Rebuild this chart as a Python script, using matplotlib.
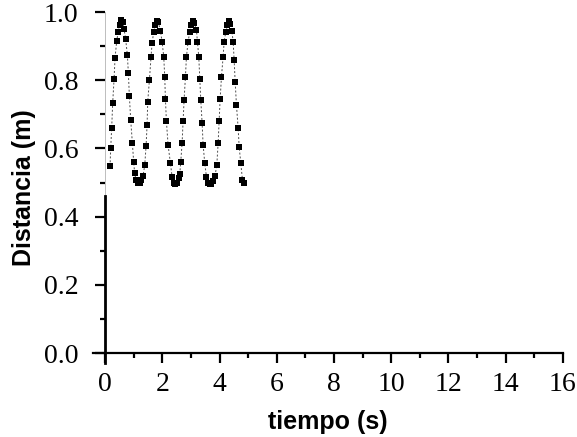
import matplotlib
matplotlib.use("Agg")
import matplotlib.pyplot as plt
from matplotlib.ticker import MultipleLocator

# Datos: tiempo (s) y distancia (m)
tiempo = [
    0.175, 0.198, 0.233, 0.268, 0.315, 0.350, 0.408, 0.460, 0.515, 0.565,
    0.615, 0.665, 0.720, 0.780, 0.816, 0.850, 0.897, 0.956, 1.000, 1.035,
    1.085, 1.145, 1.205, 1.265, 1.330,
    1.387, 1.434, 1.469, 1.492, 1.550, 1.608, 1.643, 1.701, 1.760, 1.810,
    1.860, 1.935, 1.993, 2.051, 2.086, 2.110, 2.145, 2.203, 2.285, 2.343,
    2.401, 2.460, 2.520, 2.576,
    2.611, 2.646, 2.692, 2.727, 2.762, 2.809, 2.844, 2.902, 2.960, 3.019,
    3.070, 3.120, 3.194, 3.228, 3.275, 3.310, 3.345, 3.392, 3.427, 3.485,
    3.543, 3.600, 3.660, 3.718, 3.780, 3.840,
    3.905, 3.951, 3.986, 4.021, 4.068, 4.126, 4.161, 4.219, 4.277, 4.330,
    4.380, 4.430, 4.476, 4.511, 4.546, 4.592, 4.651, 4.686, 4.744, 4.802,
    4.860,
]
distancia = [
    0.548, 0.600, 0.661, 0.734, 0.803, 0.866, 0.915, 0.942, 0.962, 0.977,
    0.972, 0.950, 0.921, 0.874, 0.820, 0.754, 0.683, 0.615, 0.561, 0.527,
    0.507, 0.500, 0.500, 0.507, 0.520,
    0.551, 0.607, 0.669, 0.737, 0.800, 0.869, 0.908, 0.942, 0.962, 0.975,
    0.970, 0.945, 0.913, 0.869, 0.810, 0.744, 0.679, 0.610, 0.556, 0.517,
    0.500, 0.497, 0.500, 0.512,
    0.525, 0.561, 0.615, 0.679, 0.742, 0.810, 0.869, 0.913, 0.942, 0.962,
    0.975, 0.968, 0.947, 0.913, 0.869, 0.805, 0.742, 0.674, 0.610, 0.556,
    0.517, 0.500, 0.495, 0.497, 0.505, 0.518,
    0.551, 0.615, 0.679, 0.744, 0.810, 0.869, 0.913, 0.942, 0.962, 0.973,
    0.965, 0.945, 0.913, 0.859, 0.796, 0.727, 0.659, 0.605, 0.556, 0.507,
    0.498,
]
xticks = [0, 2, 4, 6, 8, 10, 12, 14, 16]
yticks = [0.0, 0.2, 0.4, 0.6, 0.8, 1.0]

fig = plt.figure(figsize=(5.77, 4.37), dpi=100)
ax = fig.add_axes([0.1612, 0.1693, 0.8145, 0.8032])

# Puntos cuadrados unidos por una línea discontinua fina
ax.plot(tiempo, distancia, linestyle=(0, (2, 2)), color="0.3", lw=0.7,
        marker="s", markersize=4.8, markerfacecolor="black",
        markeredgecolor="black", markeredgewidth=0)

ax.set_xlim(-0.42, 16.0)
ax.set_ylim(-0.0293, 1.0)

# Ejes que se cruzan en (0, 0)
for s in ["top", "right"]:
    ax.spines[s].set_visible(False)
ax.spines["left"].set_position(("data", 0))
ax.spines["bottom"].set_position(("data", 0))
ax.spines["left"].set_bounds(-0.0293, 0.46)
ax.spines["bottom"].set_bounds(-0.42, 16.0)
ax.spines["left"].set_linewidth(2.0)
ax.spines["bottom"].set_linewidth(1.6)
# tramo superior del eje y casi invisible, como en el original
ax.axvline(0, (0.46 + 0.0293) / 1.0293, 1.0, color="0.7", lw=0.6)

ax.xaxis.set_minor_locator(MultipleLocator(1))
ax.yaxis.set_minor_locator(MultipleLocator(0.1))
ax.set_xticks(xticks)
ax.set_yticks(yticks)
ax.set_yticklabels([f"{v:.1f}" for v in yticks])

ax.tick_params(which="major", direction="out", length=7, width=1.6,
               color="black")
ax.tick_params(which="minor", direction="out", length=3.5, width=1.6,
               color="black")
ax.tick_params(axis="x", which="major", pad=7)
ax.tick_params(axis="y", which="major", pad=12)
for lab in ax.get_xticklabels() + ax.get_yticklabels():
    lab.set_fontfamily("Liberation Serif")
    lab.set_fontsize(20)

ax.set_xlabel("tiempo (s)", fontfamily="Liberation Sans", fontweight="bold",
              fontsize=18, labelpad=9)
ax.set_ylabel("Distancia (m)", fontfamily="Liberation Sans",
              fontweight="bold", fontsize=18, labelpad=6)

fig.savefig("out.png", dpi=100)
